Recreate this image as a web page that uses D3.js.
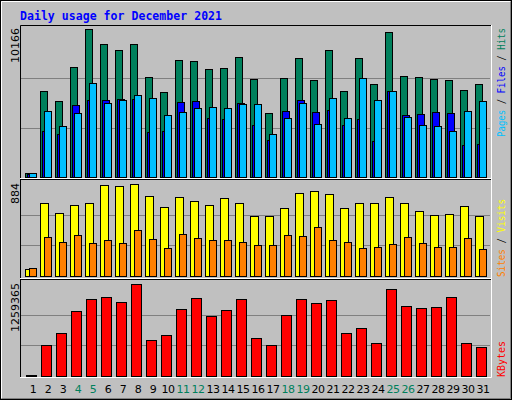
<!DOCTYPE html><html><head><meta charset="utf-8">
<script src="https://cdn.jsdelivr.net/npm/d3@7"></script>
<style>body{margin:0;background:#fff}</style></head><body>
<script>
const days = d3.range(1,32);
const weekend = [4,5,11,12,18,19,25,26];
const hits = [303,5878,5190,7530,10166,9113,8700,9113,6841,5809,8011,7943,7392,7461,8218,6704,4364,6773,8149,6635,8700,5878,8149,6360,9939,6910,6841,6704,6635,5947,6360];
const files = [240,3194,2987,4914,5259,5259,5327,5327,3125,3194,5121,5190,4020,3951,5052,3538,2574,4501,5259,4433,4570,3538,3951,2505,5878,4226,4295,4433,4364,2230,2299];
const pages = [280,4501,3469,4364,6429,5052,5259,5603,5396,4226,4433,4708,4777,4708,4983,4983,2987,4020,5052,3607,5396,4020,6773,5259,5878,4088,3538,3469,3194,4501,5190];
const visits = [67,701,605,682,701,874,865,884,769,663,759,721,682,750,701,577,577,653,798,817,788,653,701,701,759,701,625,586,596,673,577];
const sites = [77,375,327,394,317,346,317,442,356,269,404,365,346,346,327,298,298,394,384,471,346,327,269,279,307,375,317,279,279,365,259];
const kbytes = [18385,418000,584000,887000,1052000,1080000,1011000,1259365,487000,556000,915000,1066000,818000,901000,1052000,515000,418000,832000,1052000,997000,1039000,584000,653000,446000,1190000,956000,928000,942000,1080000,446000,391000];
const maxLabels = ["10166","884","1259365"];

const W=512,H=400;
const svg=d3.select("body").append("svg").attr("width",W).attr("height",H);
svg.append("rect").attr("x",0).attr("y",0).attr("width",W).attr("height",H).attr("fill","#C0C0C0");
svg.append("path").attr("d","M1.5,398.5V1.5H510.5").attr("stroke","#fff").attr("fill","none");
svg.append("path").attr("d","M1.5,398.5H510.5V1.5").attr("stroke","#808080").attr("fill","none");
svg.append("rect").attr("x",0.5).attr("y",0.5).attr("width",W-1).attr("height",H-1).attr("fill","none").attr("stroke","#000");

svg.append("text").attr("x",20).attr("y",19.5).attr("font-family","DejaVu Sans Mono").attr("font-weight","bold")
 .attr("font-size",11.5).attr("fill","#0000FF").attr("textLength",202).text("Daily usage for December 2021");

const x = d3.scaleLinear().domain([1,31]).range([25,475]);
const mono="DejaVu Sans Mono";

function panel(top,bottom,barTop,max,label){
  const y=d3.scaleLinear().domain([0,max]).range([bottom,barTop]);
  const g=svg.append("g");
  [max/3,2*max/3].forEach(v=>g.append("line").attr("x1",21).attr("x2",490).attr("y1",Math.round(y(v))+0.5).attr("y2",Math.round(y(v))+0.5).attr("stroke","#808080"));
  g.append("text").attr("transform",`translate(19,${barTop-1}) rotate(-90)`).attr("text-anchor","end")
   .attr("font-family","DejaVu Sans").attr("font-size",11).attr("fill","#000").text(label);
  return y;
}
function bars(data,y,dx,w,color){
  svg.append("g").selectAll("rect").data(data).join("rect")
   .attr("x",(d,i)=>Math.round(x(days[i]))+dx+0.5).attr("width",w)
   .attr("y",d=>Math.round(y(d))+0.5).attr("height",d=>Math.max(0,Math.round(y(0))-Math.round(y(d))))
   .attr("fill",color).attr("stroke","#000");
}
const y1=panel(25,177,29,10166,maxLabels[0]);
bars(hits,y1,0,7,"#00805C");
bars(files,y1,2,7,"#0000FF");
bars(pages,y1,4,7,"#00C0FF");
const y2=panel(179,276,184,884,maxLabels[1]);
bars(visits,y2,0,8,"#FFFF00");
bars(sites,y2,4,7,"#FF8000");
const y3=panel(279,376,284,1259365,maxLabels[2]);
bars(kbytes,y3,1,10,"#FF0000");

// frames
svg.append("path").attr("d","M20.5,377V25.5H491").attr("stroke","#000").attr("fill","none");
svg.append("path").attr("d","M20,377.5H491.5V25").attr("stroke","#fff").attr("fill","none");
[178,278].forEach(yy=>{
 svg.append("line").attr("x1",20).attr("x2",491).attr("y1",yy+0.5).attr("y2",yy+0.5).attr("stroke","#fff");
 svg.append("line").attr("x1",20).attr("x2",491).attr("y1",yy+1.5).attr("y2",yy+1.5).attr("stroke","#000");
});

svg.append("g").selectAll("text").data(days).join("text")
 .attr("x",d=>x(d)+8).attr("y",393).attr("text-anchor","middle")
 .attr("font-family","DejaVu Sans").attr("font-size",11).attr("letter-spacing",-0.5)
 .attr("fill",d=>weekend.includes(d)?"#00805C":"#000").text(d=>d);

function sideLabel(parts,anchorY,anchor,len){
  const t=svg.append("text").attr("transform",`translate(505,${anchorY}) rotate(-90)`).attr("text-anchor",anchor)
   .attr("font-family",mono).attr("font-size",10).attr("textLength",len).attr("lengthAdjust","spacingAndGlyphs");
  parts.forEach(p=>t.append("tspan").attr("fill",p[1]).text(p[0]));
}
sideLabel([["Pages","#00C0FF"],[" / ","#000"],["Files","#0000FF"],[" / ","#000"],["Hits","#00805C"]],137,"start",109);
sideLabel([["Sites","#FF8000"],[" / ","#000"],["Visits","#FFFF00"]],277,"start",78);
sideLabel([["KBytes","#FF0000"]],377,"start",36);
</script></body></html>
